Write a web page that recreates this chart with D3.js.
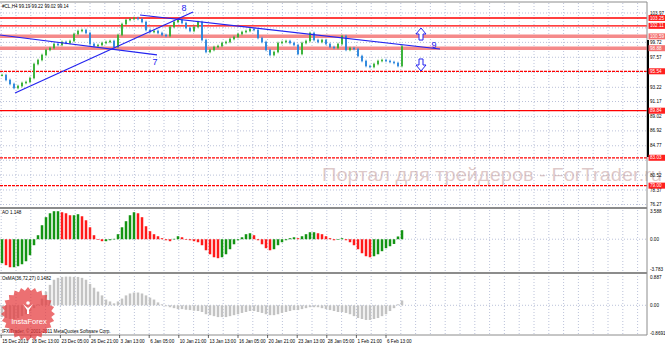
<!DOCTYPE html>
<meta charset="utf-8">
<head>
  <script src="https://d3js.org/d3.v7.min.js"></script>
  <style>
    body { margin: 0; background: #fff; }
    svg text { font-family: 'Liberation Sans', Arial, sans-serif; }
  </style>
</head>
<body>
<div id="chart"></div>
<script>
  // H4 closes (one bar every ~4px)
  const closes = [95.00, 94.28, 93.70, 93.12, 93.41, 93.85, 93.99, 94.57, 96.59, 97.17,
    97.90, 98.62, 98.91, 99.49, 99.34, 99.78, 99.63, 99.92, 100.93, 101.37,
    101.51, 101.08, 99.49, 99.20, 99.34, 99.63, 99.78, 99.92, 99.05, 100.79,
    102.38, 102.96, 103.10, 103.25, 103.10, 102.67, 101.51, 101.22, 101.37, 101.08,
    100.79, 100.64, 101.95, 102.67, 102.96, 102.52, 101.80, 101.37, 101.95, 102.67,
    100.06, 98.33, 98.62, 99.05, 99.20, 99.63, 99.78, 100.21, 100.50, 100.93,
    101.22, 101.37, 101.66, 101.51, 100.35, 99.78, 98.62, 97.90, 98.33, 99.63,
    99.78, 99.92, 99.63, 99.34, 98.04, 99.63, 99.92, 101.08, 100.06, 99.78,
    100.06, 99.49, 99.05, 98.91, 99.49, 100.64, 98.62, 98.91, 98.76, 97.75,
    97.03, 96.30, 96.16, 96.59, 97.03, 97.17, 97.03, 96.88, 96.74, 96.30,
    99.14];

  const aoValues = [-3.05, -3.30, -3.56, -3.56, -3.43, -3.18, -2.80, -2.03, -0.76, 0.51,
    1.78, 2.80, 3.30, 3.56, 3.56, 3.43, 3.30, 3.05, 3.05, 3.18,
    2.92, 2.41, 1.52, 0.51, -0.05, -0.25, -0.25, -0.13, 0.05, 0.64,
    1.52, 2.29, 3.05, 3.43, 3.30, 2.80, 1.65, 1.02, 0.64, 0.38,
    0.13, -0.13, -0.25, 0.05, 0.38, 0.25, 0.02, -0.13, -0.25, -0.38,
    -0.76, -1.40, -1.91, -2.29, -2.41, -2.29, -1.91, -1.27, -0.64, -0.13,
    0.25, 0.64, 0.76, 0.51, -0.13, -0.64, -1.14, -1.40, -1.27, -0.76,
    -0.38, -0.13, 0.13, 0.25, 0.13, 0.38, 0.64, 0.89, 0.89, 0.76,
    0.64, 0.38, 0.13, -0.13, -0.05, 0.13, -0.13, -0.38, -0.76, -1.27,
    -1.78, -2.16, -2.29, -2.16, -1.91, -1.52, -1.14, -0.89, -0.60, 0.35,
    1.15];

  const osmaValues = [-0.37, -0.40, -0.43, -0.43, -0.40, -0.34, -0.28, -0.18, -0.09, 0.03,
    0.21, 0.43, 0.64, 0.80, 0.86, 0.89, 0.90, 0.90, 0.89, 0.89,
    0.86, 0.80, 0.67, 0.55, 0.43, 0.31, 0.18, 0.12, 0.06, 0.12,
    0.21, 0.31, 0.37, 0.40, 0.40, 0.37, 0.31, 0.24, 0.18, 0.09,
    0.03, -0.03, -0.06, -0.09, -0.12, -0.12, -0.14, -0.15, -0.17, -0.18,
    -0.21, -0.28, -0.31, -0.34, -0.37, -0.37, -0.37, -0.34, -0.31, -0.28,
    -0.24, -0.21, -0.18, -0.18, -0.21, -0.24, -0.28, -0.31, -0.31, -0.28,
    -0.24, -0.21, -0.18, -0.15, -0.15, -0.12, -0.09, -0.06, -0.06, -0.06,
    -0.09, -0.12, -0.15, -0.18, -0.21, -0.21, -0.24, -0.28, -0.34, -0.40,
    -0.43, -0.46, -0.46, -0.43, -0.40, -0.34, -0.28, -0.18, -0.09, 0.03,
    0.15];

  const priceTicks = [103.97, 101.82, 99.72, 97.57, 95.42, 93.22, 91.17, 89.02, 86.92, 84.77, 82.67, 80.52, 78.37, 76.27];
  const levels = [103.25, 102.11, 100.59, 98.88, 95.54, 89.84, 83.03, 79.00];
  const aoTicks = [3.588, 0, -3.783];
  const osmaTicks = [0.887, 0, -0.8691];
  const timeLabels = ["15 Dec 2013", "18 Dec 13:00", "23 Dec 05:00", "26 Dec 21:00", "3 Jan 13:00",
    "6 Jan 05:00", "10 Jan 21:00", "13 Jan 13:00", "16 Jan 05:00", "20 Jan 21:00", "23 Jan 13:00",
    "28 Jan 05:00", "1 Feb 21:00", "6 Feb 13:00"];
  // trend lines: [bar index, price]
  const trendLines = [
    { name: "7", from: [-0.5, 100.79], to: [38.75, 97.90], label: [38.25, 96.52] },
    { name: "8", from: [3.25, 92.40], to: [47.75, 104.11], label: [45.5, 104.33] },
    { name: "9", from: [34.5, 103.68], to: [109.5, 98.76], label: [108, 98.91] }
  ];
  const arrows = [
    { dir: "up", at: 104.75, tip: 101.80, tail: 100.06 },
    { dir: "down", at: 104.75, tip: 95.58, tail: 97.32 }
  ];

  const W = 665, H = 344, axisX = 647;
  const levelStyle = [
    { c: "#ff0000", w: 1.3 }, { c: "#ff0000", w: 1.3 }, { c: "#f58a8a", w: 3.5 }, { c: "#f58a8a", w: 3.5 },
    { c: "#ff0000", w: 1.3, d: "3,1" }, { c: "#ff0000", w: 1.2 }, { c: "#ff0000", w: 1.2, d: "3,1" }, { c: "#ff0000", w: 1.2, d: "3,1" }
  ];

  const svg = d3.select("#chart").append("svg").attr("width", W).attr("height", H);

  const x = d3.scaleLinear().domain([0, closes.length - 1]).range([2, 402]);
  const y = d3.scaleLinear().domain([78.37, 103.97]).range([190, 13]);
  const yAO = d3.scaleLinear().domain([-3.783, 3.588]).range([269, 211]);
  const yOs = d3.scaleLinear().domain([-0.8691, 0.887]).range([333, 277]);

  const gridColor = "#a9b3cf";
  // vertical grid (one line every 3.7 bars, label every other line)
  const gridIdx = d3.range(-0.2, x.invert(axisX), 3.7);
  svg.append("g").selectAll("line").data(gridIdx).enter().append("line")
    .attr("x1", d => x(d)).attr("x2", d => x(d)).attr("y1", 3).attr("y2", 335)
    .attr("stroke", gridColor).attr("stroke-dasharray", "1,2").attr("stroke-width", 0.8);

  // horizontal grid
  svg.append("g").selectAll("line").data(priceTicks).enter().append("line")
    .attr("x1", 0).attr("x2", axisX).attr("y1", d => y(d)).attr("y2", d => y(d))
    .attr("stroke", gridColor).attr("stroke-dasharray", "1,2").attr("stroke-width", 0.8);
  [yAO(0), yOs(0)].forEach(v => svg.append("line").attr("x1", 0).attr("x2", axisX)
    .attr("y1", v).attr("y2", v).attr("stroke", gridColor).attr("stroke-dasharray", "1,2").attr("stroke-width", 0.8));

  // level lines
  svg.append("g").selectAll("line").data(levels).enter().append("line")
    .attr("x1", 0).attr("x2", axisX).attr("y1", d => y(d)).attr("y2", d => y(d))
    .attr("stroke", (d, i) => levelStyle[i].c).attr("stroke-width", (d, i) => levelStyle[i].w)
    .attr("stroke-dasharray", (d, i) => levelStyle[i].d || null);

  // price bars
  const bars = svg.append("g");
  closes.forEach((c, i) => {
    const o = i ? closes[i - 1] : c;
    const col = c >= o ? "#34b034" : "#2a86dc";
    bars.append("line").attr("x1", x(i)).attr("x2", x(i))
      .attr("y1", y(Math.max(o, c) + 0.18)).attr("y2", y(Math.min(o, c) - 0.18))
      .attr("stroke", col).attr("stroke-width", 1);
    bars.append("rect").attr("x", x(i) - 0.9).attr("width", 1.8)
      .attr("y", y(Math.max(o, c))).attr("height", Math.max(1, y(Math.min(o, c)) - y(Math.max(o, c))))
      .attr("fill", col);
  });

  // trend lines
  const tl = svg.append("g");
  trendLines.forEach(t => {
    tl.append("line").attr("x1", x(t.from[0])).attr("y1", y(t.from[1]))
      .attr("x2", x(t.to[0])).attr("y2", y(t.to[1]))
      .attr("stroke", "#2323f0").attr("stroke-width", 1.2);
    tl.append("text").attr("x", x(t.label[0])).attr("y", y(t.label[1]))
      .attr("text-anchor", "middle").attr("font-size", 9).attr("fill", "#2323f0").text(t.name);
  });

  // arrows
  arrows.forEach(a => {
    const cx = x(a.at), t = y(a.tip), b = y(a.tail), s = a.dir === "up" ? 1 : -1;
    const hb = t + s * 6;
    const p = [[cx, t], [cx + 5, hb], [cx + 2, hb], [cx + 2, b], [cx - 2, b], [cx - 2, hb], [cx - 5, hb]];
    svg.append("path").attr("d", "M" + p.join("L") + "Z")
      .attr("fill", "#fff").attr("stroke", "#2323f0").attr("stroke-width", 1);
  });

  // watermark
  svg.append("text").attr("x", 322).attr("y", 181).attr("font-size", 18)
    .attr("textLength", 340).attr("lengthAdjust", "spacingAndGlyphs")
    .attr("fill", "#c29b9b").attr("fill-opacity", 0.55)
    .text("Портал для трейдеров - ForTrader.ru");

  // AO histogram
  svg.append("g").selectAll("rect").data(aoValues).enter().append("rect")
    .attr("x", (d, i) => x(i) - 1.25).attr("width", 2.5)
    .attr("y", d => Math.min(yAO(d), yAO(0))).attr("height", d => Math.max(0.6, Math.abs(yAO(d) - yAO(0))))
    .attr("fill", (d, i) => (i && d < aoValues[i - 1]) ? "#ff1a1a" : "#139413");

  // OsMA histogram
  svg.append("g").selectAll("rect").data(osmaValues).enter().append("rect")
    .attr("x", (d, i) => x(i) - 1.25).attr("width", 2.5)
    .attr("y", d => Math.min(yOs(d), yOs(0))).attr("height", d => Math.max(0.6, Math.abs(yOs(d) - yOs(0))))
    .attr("fill", "#c3c3c3");

  // frame
  const frame = svg.append("g").attr("stroke", "#8c8c8c");
  frame.append("line").attr("x1", 0).attr("x2", axisX).attr("y1", 2).attr("y2", 2);
  frame.append("line").attr("x1", 0).attr("x2", axisX).attr("y1", 208).attr("y2", 208).attr("stroke-width", 2);
  frame.append("line").attr("x1", 0).attr("x2", axisX).attr("y1", 273).attr("y2", 273).attr("stroke-width", 2);
  frame.append("line").attr("x1", 0).attr("x2", axisX).attr("y1", 335).attr("y2", 335);
  frame.append("line").attr("x1", axisX).attr("x2", axisX).attr("y1", 2).attr("y2", 335);
  svg.append("line").attr("x1", axisX + 1).attr("x2", axisX + 1).attr("y1", 40).attr("y2", 157)
    .attr("stroke", "#000").attr("stroke-width", 2);

  // right axis labels (grid labels sitting under a level tag are covered by it, as in the terminal)
  const fs = 4.6;
  const ax = svg.append("g").attr("font-size", fs).attr("fill", "#000");
  priceTicks.filter(t => !levels.some(l => Math.abs(y(l) - y(t)) < 4)).forEach(t => {
    ax.append("text").attr("x", 650).attr("y", y(t) + 1.6).text(t.toFixed(2));
  });
  aoTicks.forEach(t => ax.append("text").attr("x", 650).attr("y", yAO(t) + 1.6).text(t === 0 ? "0.00" : t.toFixed(3)));
  osmaTicks.forEach(t => ax.append("text").attr("x", 650).attr("y", yOs(t) + 1.6).text(t === 0 ? "0.00" : String(t)));

  levels.forEach((l, i) => {
    ax.append("rect").attr("x", 648.5).attr("y", y(l) - 3).attr("width", 16.5).attr("height", 6)
      .attr("fill", levelStyle[i].c === "#ff0000" ? "#ff1f1f" : "#f47070");
    ax.append("text").attr("x", 650).attr("y", y(l) + 1.6).attr("fill", "#fff").text(l.toFixed(2));
  });

  // time axis
  const tg = svg.append("g").attr("font-size", fs).attr("fill", "#000");
  timeLabels.forEach((lab, k) => {
    const gx = x(gridIdx[k * 2]);
    tg.append("line").attr("x1", gx).attr("x2", gx).attr("y1", 335).attr("y2", 338).attr("stroke", "#000").attr("stroke-width", 0.6);
    tg.append("text").attr("x", gx + 1).attr("y", 342.5).text(lab);
  });

  // titles
  const tt = svg.append("g").attr("font-size", fs).attr("fill", "#000");
  tt.append("text").attr("x", 2).attr("y", 7.5).text("#CL,H4  99.19 99.22 99.02 99.14");
  tt.append("text").attr("x", 2).attr("y", 214).text("AO 1.148");
  tt.append("text").attr("x", 2).attr("y", 279.5).text("OsMA(36,72,27) 0.1482");

  // InstaForex badge
  const cx0 = 28, cy0 = 314;
  const star = d3.range(48).map(k => {
    const a = k / 48 * 2 * Math.PI, r = k % 2 ? 23.5 : 27;
    return [cx0 + r * Math.sin(a), cy0 - r * Math.cos(a)];
  });
  svg.append("path").attr("d", "M" + star.join("L") + "Z").attr("fill", "#e5393b").attr("fill-opacity", 0.72);
  svg.append("circle").attr("cx", cx0).attr("cy", 303).attr("r", 1.8).attr("fill", "#fff");
  svg.append("path").attr("d", `M${cx0 - 5},304 L${cx0},308 L${cx0 + 5},304 L${cx0 + 1},310 L${cx0 + 1},314 L${cx0 - 1},314 L${cx0 - 1},310 Z`)
    .attr("fill", "#fff");
  svg.append("text").attr("x", cx0 + 1).attr("y", 324).attr("text-anchor", "middle")
    .attr("font-size", 7.5).attr("fill", "#fff").text("InstaForex");

  tt.append("text").attr("x", 2).attr("y", 333).text("IFX Trader, © 2001-2011 MetaQuotes Software Corp.");
</script>
</body>
